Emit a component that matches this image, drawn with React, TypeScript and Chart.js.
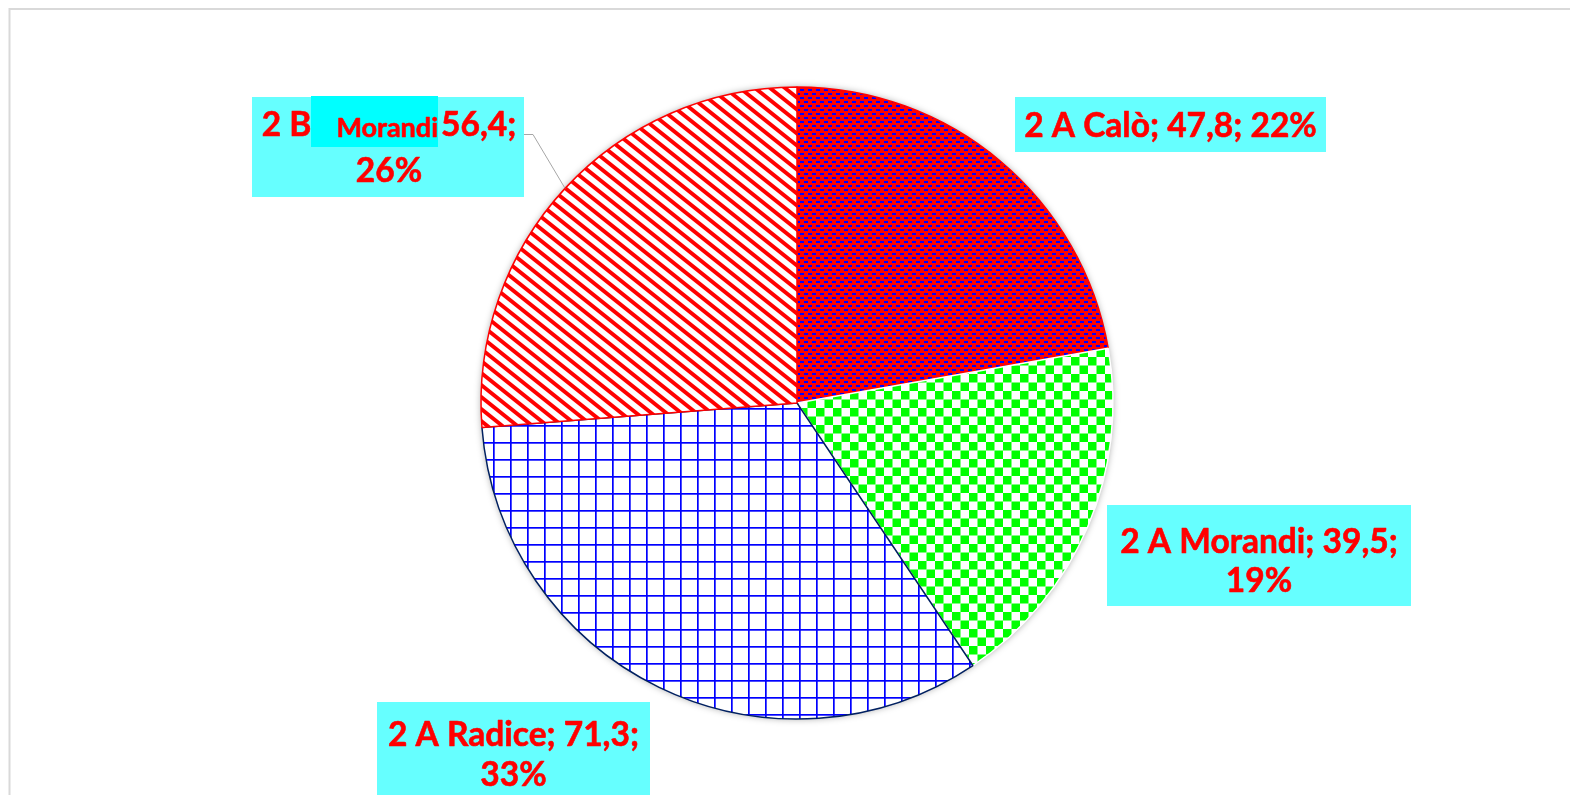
import React, { useEffect, useRef } from 'react';
import { Chart, registerables } from 'chart.js';

Chart.register(...registerables);

// ---- data ----
const categories = ['2 A Calò', '2 A Morandi', '2 A Radice', '2 B Morandi'];
const values = [47.8, 39.5, 71.3, 56.4];
const valueLabels = ['47,8', '39,5', '71,3', '56,4'];
const percentLabels = ['22%', '19%', '33%', '26%'];

// ---- styling ----
const RED = '#FF0000';
const BLUE = '#0000FF';
const GREEN = '#00FF00';
const BOX = 'rgb(102,255,255)';
const BOX_INNER = '#00FFFF';
const FONT = 'Lato, "Open Sans", sans-serif';

function makePattern(w: number, h: number, draw: (g: CanvasRenderingContext2D) => void): CanvasPattern | string {
  const c = document.createElement('canvas');
  c.width = w;
  c.height = h;
  const g = c.getContext('2d');
  if (!g) return '#ccc';
  draw(g);
  const p = g.createPattern(c, 'repeat');
  return p || '#ccc';
}

function buildPatterns() {
  const dashes = makePattern(8, 8, (g) => {
    g.fillStyle = RED;
    g.fillRect(0, 0, 8, 8);
    g.fillStyle = BLUE;
    g.fillRect(0, 1, 4, 2);
    g.fillRect(4, 5, 4, 2);
  });
  const checker = makePattern(17, 17, (g) => {
    g.fillStyle = '#FFFFFF';
    g.fillRect(0, 0, 17, 17);
    g.fillStyle = GREEN;
    g.fillRect(0, 0, 8.5, 8.5);
    g.fillRect(8.5, 8.5, 8.5, 8.5);
  });
  const grid = makePattern(17, 17, (g) => {
    g.fillStyle = '#FFFFFF';
    g.fillRect(0, 0, 17, 17);
    g.fillStyle = BLUE;
    g.fillRect(0, 0, 17, 1.7);
    g.fillRect(0, 0, 1.7, 17);
  });
  const stripes = makePattern(15, 12, (g) => {
    g.fillStyle = '#FFFFFF';
    g.fillRect(0, 0, 15, 12);
    g.strokeStyle = RED;
    g.lineWidth = 3.9;
    for (let k = -4; k <= 4; k++) {
      g.beginPath();
      g.moveTo(-30, -24 + k * 12);
      g.lineTo(45, 36 + k * 12);
      g.stroke();
    }
  });
  return [dashes, checker, grid, stripes];
}

function drawBox(ctx: CanvasRenderingContext2D, x: number, y: number, w: number, h: number, color: string) {
  ctx.fillStyle = color;
  ctx.fillRect(x, y, w, h);
}

function drawText(ctx: CanvasRenderingContext2D, text: string, x: number, y: number) {
  ctx.fillStyle = RED;
  ctx.strokeStyle = RED;
  ctx.lineWidth = 0.6;
  ctx.lineJoin = 'round';
  ctx.fillText(text, x, y);
  ctx.strokeText(text, x, y);
}

function drawCentered(ctx: CanvasRenderingContext2D, text: string, cx: number, cy: number, size: number) {
  ctx.font = `bold ${size}px ${FONT}`;
  ctx.textAlign = 'center';
  ctx.textBaseline = 'middle';
  drawText(ctx, text, cx, cy);
}

const overlayPlugin = {
  id: 'excelOverlay',
  beforeDatasetsDraw(chart: any) {
    const ctx = chart.ctx as CanvasRenderingContext2D;
    const arc = chart.getDatasetMeta(0).data[0];
    if (!arc) return;
    ctx.save();
    ctx.shadowColor = 'rgba(0,0,0,0.35)';
    ctx.shadowBlur = 7;
    ctx.fillStyle = '#FFFFFF';
    ctx.beginPath();
    ctx.arc(arc.x, arc.y, arc.outerRadius, 0, Math.PI * 2);
    ctx.fill();
    ctx.restore();
  },
  afterDraw(chart: any) {
    const ctx = chart.ctx as CanvasRenderingContext2D;
    const meta = chart.getDatasetMeta(0);
    ctx.save();

    // chart frame (extends past the window)
    ctx.strokeStyle = '#D9D9D9';
    ctx.lineWidth = 2;
    ctx.strokeRect(9.5, 9, 1700, 900);

    const size = 33.5;

    // 2 A Calò
    drawBox(ctx, 1015, 97, 311, 55, BOX);
    drawCentered(ctx, `${categories[0]}; ${valueLabels[0]}; ${percentLabels[0]}`, 1170.5, 126, size);

    // 2 A Morandi
    drawBox(ctx, 1107, 505, 304, 101, BOX);
    drawCentered(ctx, `${categories[1]}; ${valueLabels[1]};`, 1259, 542, size);
    drawCentered(ctx, percentLabels[1], 1259, 581, size);

    // 2 A Radice
    drawBox(ctx, 377, 702, 273, 110, BOX);
    drawCentered(ctx, `${categories[2]}; ${valueLabels[2]};`, 513.5, 735, size);
    drawCentered(ctx, percentLabels[2], 513.5, 775, size);

    // 2 B Morandi (with inner highlighted word)
    const arc3 = meta.data[3];
    if (arc3) {
      const mid = (arc3.startAngle + arc3.endAngle) / 2;
      const ex = arc3.x + Math.cos(mid) * arc3.outerRadius;
      const ey = arc3.y + Math.sin(mid) * arc3.outerRadius;
      ctx.strokeStyle = '#A6A6A6';
      ctx.lineWidth = 1;
      ctx.beginPath();
      ctx.moveTo(524, 134.5);
      ctx.lineTo(533, 134.5);
      ctx.lineTo(ex, ey);
      ctx.stroke();
    }
    drawBox(ctx, 252, 97, 272, 100, BOX);
    drawBox(ctx, 311, 96, 127, 51, BOX_INNER);
    const parts = categories[3].split(' ');
    const head = `${parts[0]} ${parts[1]}`;
    const word = parts.slice(2).join(' ');
    const tail = `${valueLabels[3]};`;
    const small = 27;
    ctx.textBaseline = 'middle';
    ctx.textAlign = 'left';
    ctx.font = `bold ${size}px ${FONT}`;
    const wHead = ctx.measureText(head).width;
    const wTail = ctx.measureText(tail).width;
    ctx.font = `bold ${small}px ${FONT}`;
    const wWord = ctx.measureText(word).width;
    const gap1 = 25;
    const gap2 = 3;
    const total = wHead + gap1 + wWord + gap2 + wTail;
    let x = 389 - total / 2;
    ctx.font = `bold ${size}px ${FONT}`;
    drawText(ctx, head, x, 125);
    x += wHead + gap1;
    ctx.font = `bold ${small}px ${FONT}`;
    drawText(ctx, word, x, 128);
    x += wWord + gap2;
    ctx.font = `bold ${size}px ${FONT}`;
    drawText(ctx, tail, x, 125);
    drawCentered(ctx, percentLabels[3], 389, 171, size);

    ctx.restore();
  },
};

export default function App() {
  const ref = useRef<HTMLCanvasElement | null>(null);

  useEffect(() => {
    const canvas = ref.current;
    if (!canvas) return;
    const patterns = buildPatterns();
    const chart = new Chart(canvas, {
      type: 'pie',
      data: {
        labels: categories,
        datasets: [
          {
            data: values,
            backgroundColor: patterns as any,
            borderColor: [RED, '#FFFFFF', '#002060', RED],
            borderWidth: 1.5,
            radius: 316,
          } as any,
        ],
      },
      options: {
        animation: false,
        responsive: false,
        maintainAspectRatio: false,
        layout: { padding: { left: 481, right: 457, top: 87, bottom: 76 } },
        plugins: {
          legend: { display: false },
          tooltip: { enabled: false },
        },
      },
      plugins: [overlayPlugin],
    });
    return () => chart.destroy();
  }, []);

  return (
    <div style={{ position: 'fixed', left: 0, top: 0, width: 1570, height: 795, overflow: 'hidden', background: '#FFFFFF' }}>
      <canvas ref={ref} width={1570} height={795} style={{ width: 1570, height: 795, display: 'block' }} />
    </div>
  );
}
